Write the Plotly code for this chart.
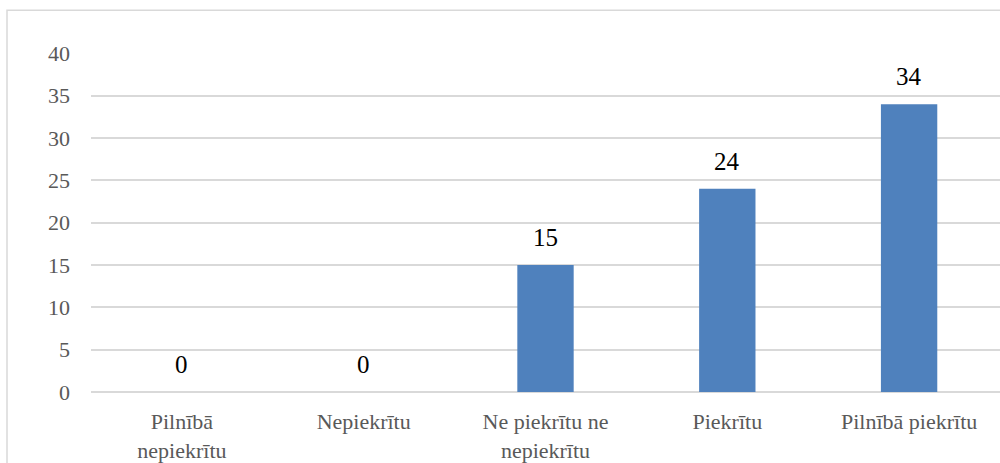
import plotly.graph_objects as go

categories = ["Pilnībā<br>nepiekrītu", "Nepiekrītu", "Ne piekrītu ne<br>nepiekrītu", "Piekrītu", "Pilnībā piekrītu"]
counts = [0, 0, 15, 24, 34]
y_ticks = [0, 5, 10, 15, 20, 25, 30, 35, 40]

W, H = 1000, 463
L, R, T, B = 91, 0, 53, 69
pw, ph = W - L - R, H - T - B
SERIF = "Liberation Serif, serif"

fig = go.Figure(go.Bar(
    x=categories, y=counts,
    marker=dict(color="#4f81bd", line=dict(width=0)),
    cliponaxis=False,
))

# value labels above each bar
for c, v in zip(categories, counts):
    fig.add_annotation(x=c, y=v, text=str(v), showarrow=False, yanchor="bottom",
                       yshift=12, font=dict(family=SERIF, size=25, color="#000000"))

fig.update_layout(
    width=W, height=H,
    margin=dict(l=L, r=R, t=T, b=B),
    paper_bgcolor="white", plot_bgcolor="white",
    bargap=0.69, showlegend=False,
    font=dict(family=SERIF, size=22, color="#595959"),
    xaxis=dict(range=[-0.5, 4.5], showgrid=False, zeroline=False, showline=False,
               ticks="", ticklabelstandoff=14, tickfont=dict(size=22, color="#595959")),
    yaxis=dict(range=[0, 40.05], tickvals=y_ticks, showgrid=True, gridcolor="#d9d9d9",
               gridwidth=1.5, zeroline=True, zerolinecolor="#d9d9d9", zerolinewidth=1.5,
               showline=False, ticks="",
               ticklabelstandoff=20, tickfont=dict(size=22, color="#595959")),
    shapes=[dict(type="rect", xref="paper", yref="paper",
                 x0=(7 - L) / pw, x1=1.2, y0=-0.5, y1=(H - B - 10) / ph,
                 line=dict(color="#d9d9d9", width=1.5), fillcolor="rgba(0,0,0,0)", layer="below")],
)

fig.write_html("out.html")
